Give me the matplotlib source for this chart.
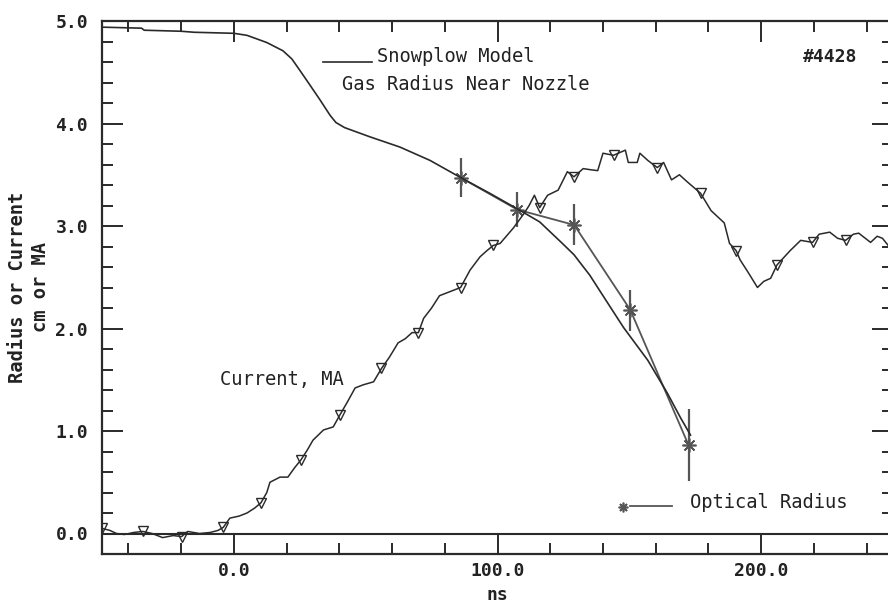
import matplotlib
matplotlib.use("Agg")
import matplotlib.pyplot as plt
from matplotlib.ticker import MultipleLocator, FormatStrFormatter

# Measured plasma current (MA) versus time (ns)
time_current = [-50, -47, -44.5, -41.5, -38, -34.5, -31, -27, -23, -19.8, -17.5, -13, -9, -6, -4,
                -1.5, 2, 5, 8, 10.3, 12.5, 13.7, 17.5, 20.5, 23, 25.5, 28, 30, 34, 37.7, 40.3,
                43, 46, 49, 53, 56, 59, 62.3, 65, 67.6, 70, 72, 75, 78, 82, 86, 89.6, 93.4, 96,
                98.4, 101, 104, 106, 110, 112, 114, 116, 119, 123, 126.5, 129, 132.5, 135, 138,
                140, 144, 148.5, 149.6, 153, 154, 157, 160.6, 163, 166, 169, 172, 177, 181, 186,
                188, 190.5, 192, 195, 198.6, 201, 203.6, 206, 211, 215, 219.5, 222, 226, 229,
                232, 235, 237, 241.5, 244, 246, 248.5, 250]
current_ma = [0.05, 0.03, 0.00, -0.01, 0.01, 0.02, 0.00, -0.04, -0.02, -0.03, 0.02, 0.00, 0.01,
              0.03, 0.06, 0.15, 0.17, 0.20, 0.25, 0.30, 0.40, 0.50, 0.55, 0.55, 0.64, 0.72, 0.82,
              0.91, 1.01, 1.04, 1.16, 1.28, 1.42, 1.45, 1.48, 1.61, 1.72, 1.86, 1.90, 1.96, 1.96,
              2.10, 2.20, 2.32, 2.36, 2.40, 2.57, 2.70, 2.76, 2.81, 2.83, 2.92, 2.98, 3.12, 3.20,
              3.30, 3.18, 3.30, 3.35, 3.53, 3.48, 3.56, 3.55, 3.54, 3.71, 3.69, 3.74, 3.62, 3.62,
              3.71, 3.64, 3.57, 3.62, 3.45, 3.50, 3.43, 3.32, 3.15, 3.03, 2.83, 2.76, 2.67, 2.55,
              2.40, 2.46, 2.49, 2.62, 2.76, 2.86, 2.84, 2.92, 2.94, 2.88, 2.86, 2.92, 2.93, 2.84,
              2.90, 2.88, 2.80, 2.82]
# Samples that carry the triangle symbol
marker_times = [-50, -34.5, -19.8, -4, 10.3, 25.5, 40.3, 56, 70, 86, 98.4, 116, 129, 144, 160.6,
                177, 190.5, 206, 219.5, 232]

# Snowplow model: gas radius near nozzle (cm)
snow_t = [-50, -35, -34, -20, -15, 0, 5, 12.5, 18.6, 22, 25, 29, 32.7, 36.5, 38.7, 42, 51.6,
          63, 74.4, 86.2, 97, 108, 110, 116, 124.6, 129, 135, 139, 147.8, 157, 164.4, 169.4, 173.2]
snow_r = [4.94, 4.93, 4.91, 4.90, 4.89, 4.88, 4.86, 4.79, 4.71, 4.63, 4.52, 4.37, 4.23, 4.08,
          4.01, 3.96, 3.87, 3.77, 3.64, 3.47, 3.32, 3.16, 3.13, 3.04, 2.83, 2.72, 2.52, 2.36,
          2.01, 1.69, 1.37, 1.13, 0.96]

# Optical radius measurements (cm) with uncertainty
opt_t = [86.2, 107.5, 129.1, 150.4, 172.5]
opt_r = [3.47, 3.16, 3.01, 2.18, 0.86]
opt_err = [0.19, 0.17, 0.20, 0.20, 0.35]

x_ticks = [0, 100, 200]
y_ticks = [0, 1, 2, 3, 4, 5]

W, H = 888, 605
fig = plt.figure(figsize=(W / 100, H / 100), dpi=100)
ax = fig.add_axes([102 / W, 51 / H, 791 / W, 533 / H])

mono = "DejaVu Sans Mono"
dark = "#2a2a2a"
grey = "#555555"

# Current trace with triangle symbols
mark_idx = [time_current.index(t) for t in marker_times]
ax.plot(time_current, current_ma, color=dark, lw=1.1, marker="v", markevery=mark_idx,
        ms=7, mfc="none", mec=dark, mew=1.0, zorder=3)

# Snowplow model curve
ax.plot(snow_t, snow_r, color=dark, lw=1.2, zorder=3)

# Optical radius with error bars
ax.errorbar(opt_t, opt_r, yerr=opt_err, fmt="none", ecolor=grey, elinewidth=1.6, capsize=0,
            zorder=2)
ax.plot(opt_t, opt_r, color=grey, lw=1.3, marker=(8, 2, 0), ms=10, mec=grey, mew=1.2, zorder=2)

# Zero line
ax.axhline(0, color=dark, lw=1.5, zorder=1)

ax.set_xlim(-50, 250)
ax.set_ylim(-0.2, 5.0)
ax.xaxis.set_major_locator(plt.FixedLocator(x_ticks))
ax.xaxis.set_minor_locator(MultipleLocator(20))
ax.yaxis.set_major_locator(plt.FixedLocator(y_ticks))
ax.yaxis.set_minor_locator(MultipleLocator(0.2))
ax.xaxis.set_major_formatter(FormatStrFormatter("%.1f"))
ax.yaxis.set_major_formatter(FormatStrFormatter("%.1f"))

ax.tick_params(which="both", direction="in", top=True, right=True, color=dark, width=1.4)
ax.tick_params(which="major", length=15)
ax.tick_params(which="minor", length=8)
ax.tick_params(axis="y", which="major", pad=10)
ax.tick_params(axis="x", which="major", pad=6)
for lab in ax.get_xticklabels() + ax.get_yticklabels():
    lab.set_fontfamily(mono)
    lab.set_fontweight("bold")
    lab.set_fontsize(13)
    lab.set_color("#222222")

for sp in ax.spines.values():
    sp.set_color(dark)
    sp.set_linewidth(1.6)

ax.set_xlabel("ns", family=mono, fontsize=13, fontweight="bold", color="#222222", labelpad=4)
ax.set_ylabel("Radius or Current\ncm or MA", family=mono, fontsize=13.5, fontweight="bold",
              color="#222222", labelpad=4, linespacing=1.25)

# Annotations
ax.plot([0.2794, 0.3413], [0.9231, 0.9231], transform=ax.transAxes, color=dark, lw=1.2)
ax.text(0.3477, 0.9325, "Snowplow Model", transform=ax.transAxes, family=mono, fontsize=13.5,
        va="center", ha="left", color="#222222")
ax.text(0.3034, 0.880, "Gas Radius Near Nozzle", transform=ax.transAxes, family=mono,
        fontsize=13.5, va="center", ha="left", color="#222222")
ax.text(0.9545, 0.9325, "#4428", transform=ax.transAxes, family=mono, fontsize=13,
        fontweight="bold", va="center", ha="right", color="#222222")
ax.text(0.149, 0.3265, "Current, MA", transform=ax.transAxes, family=mono, fontsize=13.5,
        va="center", ha="left", color="#222222")

# Legend for the optical radius
ax.plot([0.6587], [0.0882], transform=ax.transAxes, marker=(8, 2, 0), ms=7, color=grey,
        mew=1.2)
ax.plot([0.6675, 0.7206], [0.090, 0.090], transform=ax.transAxes, color=grey, lw=1.3)
ax.text(0.7434, 0.0957, "Optical Radius", transform=ax.transAxes, family=mono, fontsize=13.5,
        va="center", ha="left", color="#222222")

fig.savefig("out.png", dpi=100)
